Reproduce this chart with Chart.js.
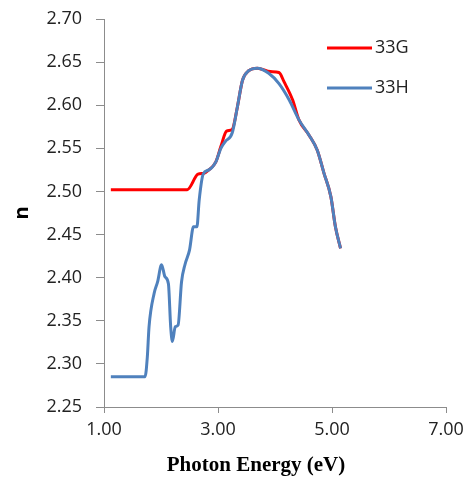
<!DOCTYPE html>
<html>
<head>
<meta charset="utf-8">
<script src="https://cdn.jsdelivr.net/npm/chart.js@4"></script>
<style>
  html, body { margin: 0; padding: 0; background: #fff; }
  #wrap { width: 470px; height: 482px; }
</style>
</head>
<body>
<div id="wrap"><canvas id="grafico" width="470" height="482"></canvas></div>
<script>
// values
const energyG = [1.12, 1.50, 2.00, 2.46, 2.65, 2.75, 2.84, 2.96, 3.05, 3.15, 3.25, 3.34, 3.43, 3.54, 3.69, 3.92, 4.07, 4.16, 4.31, 4.42, 4.60, 4.74, 4.86, 4.98, 5.06, 5.15];
const nG = [2.502, 2.502, 2.502, 2.502, 2.520, 2.521, 2.525, 2.534, 2.552, 2.570, 2.572, 2.598, 2.629, 2.640, 2.643, 2.639, 2.638, 2.627, 2.606, 2.583, 2.565, 2.548, 2.521, 2.494, 2.459, 2.434];

const energyH = [1.12, 1.50, 1.72, 1.76, 1.79, 1.88, 1.94, 2.01, 2.07, 2.13, 2.17, 2.20, 2.25, 2.30, 2.36, 2.42, 2.50, 2.57, 2.63, 2.67, 2.74, 2.84, 2.96, 3.05, 3.13, 3.25, 3.34, 3.43, 3.54, 3.69, 3.89, 4.07, 4.25, 4.42, 4.60, 4.74, 4.86, 4.98, 5.06, 5.15];
const nH = [2.285, 2.285, 2.285, 2.308, 2.343, 2.382, 2.395, 2.415, 2.401, 2.393, 2.343, 2.326, 2.343, 2.345, 2.395, 2.415, 2.432, 2.459, 2.459, 2.490, 2.520, 2.525, 2.534, 2.550, 2.558, 2.568, 2.598, 2.629, 2.640, 2.643, 2.637, 2.625, 2.606, 2.583, 2.565, 2.548, 2.521, 2.494, 2.459, 2.434];

const seriesNames = ["33G", "33H"];
const xTitle = "Photon Energy (eV)";
const yTitle = "n";

function pts(xs, ys) {
  return xs.map((x, i) => ({ x: x, y: ys[i] }));
}

const axisColor = "#8c8c8c";
const tickFont = { family: "Open Sans", size: 18 };

// legend inside the plot and the x title, placed like the original
const extras = {
  id: "extras",
  afterDraw(chart) {
    const ctx = chart.ctx;
    const rows = [48, 88];
    chart.data.datasets.forEach((ds, i) => {
      const y = rows[i];
      ctx.save();
      ctx.strokeStyle = ds.borderColor;
      ctx.lineWidth = 3;
      ctx.beginPath();
      ctx.moveTo(327, y);
      ctx.lineTo(372, y);
      ctx.stroke();
      ctx.fillStyle = "#222";
      ctx.font = "18px 'Open Sans'";
      ctx.textBaseline = "middle";
      ctx.fillText(ds.label, 375, y);
      ctx.restore();
    });

    ctx.save();
    ctx.fillStyle = "#000";
    ctx.font = "bold 21px 'Liberation Serif'";
    ctx.textAlign = "center";
    ctx.textBaseline = "middle";
    ctx.fillText(xTitle, 256, 466);
    ctx.restore();
  }
};

new Chart(document.getElementById("grafico"), {
  type: "line",
  data: {
    datasets: [
      {
        label: seriesNames[0],
        data: pts(energyG, nG),
        borderColor: "#ff0000",
        borderWidth: 3,
        pointRadius: 0,
        cubicInterpolationMode: "monotone",
        order: 1
      },
      {
        label: seriesNames[1],
        data: pts(energyH, nH),
        borderColor: "#4f81bd",
        borderWidth: 3,
        pointRadius: 0,
        cubicInterpolationMode: "monotone",
        order: 0
      }
    ]
  },
  options: {
    responsive: false,
    animation: false,
    layout: { padding: { top: 19, right: 24, left: 0, bottom: 0 } },
    plugins: {
      legend: { display: false },
      tooltip: { enabled: false }
    },
    scales: {
      x: {
        type: "linear",
        min: 1,
        max: 7,
        afterFit(s) {
          s.height = 75;
          s.paddingLeft = 0;
          s.paddingRight = 0;
        },
        ticks: {
          stepSize: 2,
          color: "#222",
          font: tickFont,
          padding: 6,
          callback: v => v.toFixed(2)
        },
        grid: { drawOnChartArea: false, tickLength: 6, color: axisColor },
        border: { color: axisColor }
      },
      y: {
        min: 2.25,
        max: 2.70,
        afterFit(s) {
          s.width = 104;
          s.paddingTop = 0;
          s.paddingBottom = 0;
        },
        ticks: {
          stepSize: 0.05,
          color: "#222",
          font: tickFont,
          padding: 14,
          callback: v => v.toFixed(2)
        },
        grid: { drawOnChartArea: false, tickLength: 8, color: axisColor },
        border: { color: axisColor },
        title: {
          display: true,
          text: yTitle,
          color: "#000",
          font: { family: "Open Sans", size: 20, weight: "bold" },
          padding: { top: 10, bottom: 0 }
        }
      }
    }
  },
  plugins: [extras]
});
</script>
</body>
</html>
